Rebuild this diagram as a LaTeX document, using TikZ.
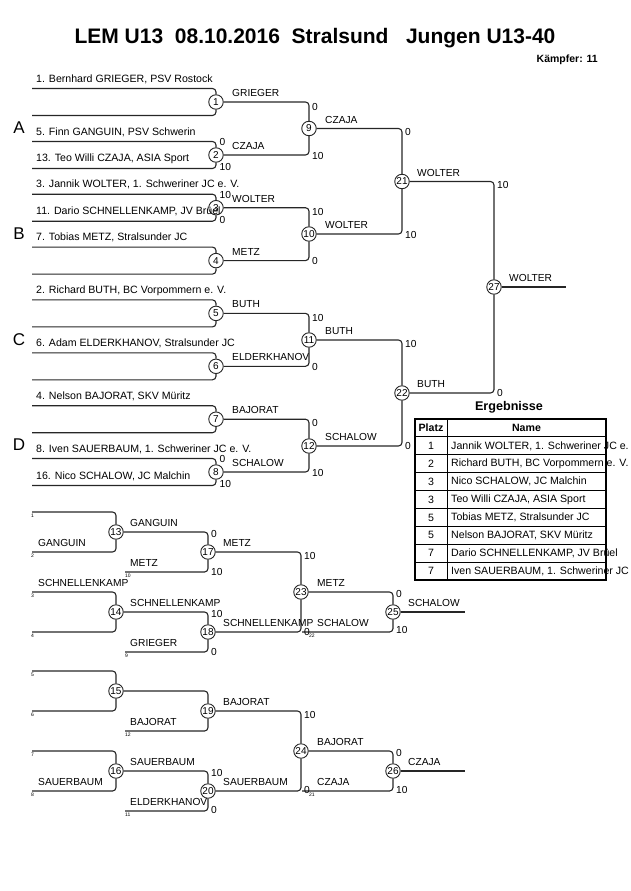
\documentclass[tikz,border=0pt]{standalone}
\usepackage{fontspec}
\setmainfont{Liberation Sans}
\usetikzlibrary{positioning}

\tikzset{
  mc/.style={circle, draw=black!85, fill=white, line width=0.9, inner sep=0pt, minimum size=14.5, font=\fontsize{10}{10}\selectfont},
  br/.style={draw=black!85, line width=1.1, rounded corners=3.5},
  nm/.style={anchor=west, inner sep=0pt, font=\fontsize{10.6}{12}\selectfont},
  lb/.style={anchor=west, inner sep=0pt, font=\fontsize{10.2}{12}\selectfont},
  sc/.style={anchor=west, inner sep=0pt, font=\fontsize{10.2}{12}\selectfont},
  tn/.style={anchor=north west, inner sep=0pt, font=\fontsize{5}{5}\selectfont},
  grp/.style={inner sep=0pt, font=\fontsize{17}{17}\selectfont},
  cell/.style={inner sep=0pt, font=\fontsize{10.6}{12}\selectfont},
}

\begin{document}
\begin{tikzpicture}[x=1pt,y=-1pt]
\useasboundingbox (0,0) rectangle (630,891);
\clip (0,0) rectangle (630,891);

% header
\node[font=\bfseries\fontsize{21}{24}\selectfont] (title) at (315,38) {LEM U13~~08.10.2016~~Stralsund~~~Jungen U13-40};
\node[anchor=east, inner sep=0pt, font=\bfseries\fontsize{10.5}{12}\selectfont] (kampf) at (598,60) {Kämpfer: 11};

% pools
\node[grp] (pA) at (19,128) {A};
\node[grp] (pB) at (19,234) {B};
\node[grp] (pC) at (19,340) {C};
\node[grp] (pD) at (19,445) {D};

% main tree, first round
\foreach \i/\y/\w in {1/102/GRIEGER, 2/155/CZAJA, 3/207.7/WOLTER, 4/260.6/METZ,
    5/313.4/BUTH, 6/366.3/ELDERKHANOV, 7/419.2/BAJORAT, 8/472/SCHALOW}{
  \node[mc] (m\i) at (216,\y) {\i};
  \coordinate (a\i) at (32,\y-13.5);
  \coordinate (b\i) at (32,\y+13.5);
  \draw[br] (a\i) -| (m\i);
  \draw[br] (b\i) -| (m\i);
  \node[lb] (l\i) at (232,\y-9) {\w};
}

% later rounds
\node[mc] (m9) at (309,128.5) {9};
\node[mc] (m10) at (309,234) {10};
\node[mc] (m11) at (309,340) {11};
\node[mc] (m12) at (309,446) {12};
\node[mc] (m21) at (402,181.5) {21};
\node[mc] (m22) at (402,393) {22};
\node[mc] (m27) at (494,287) {27};
\coordinate (w27) at (566,287);
\foreach \s/\t in {1/9,2/9,3/10,4/10,5/11,6/11,7/12,8/12,9/21,10/21,11/22,12/22,21/27,22/27}
  \draw[br] (m\s) -| (m\t);
\draw[br] (m27) -- (w27);

\node[lb] (l9) at (325,119.5) {CZAJA};
\node[lb] (l10) at (325,225) {WOLTER};
\node[lb] (l11) at (325,331) {BUTH};
\node[lb] (l12) at (325,437) {SCHALOW};
\node[lb] (l21) at (417,172.5) {WOLTER};
\node[lb] (l22) at (417,384) {BUTH};
\node[lb] (l27) at (509,278) {WOLTER};

% entrants
\node[nm] (n1) at (36,79) {1. Bernhard GRIEGER, PSV Rostock};
\node[nm] (n5) at (36,132) {5. Finn GANGUIN, PSV Schwerin};
\node[nm] (n13) at (36,159) {13. Teo Willi CZAJA, ASIA Sport};
\node[nm] (n3) at (36,184.7) {3. Jannik WOLTER, 1. Schweriner JC e. V.};
\node[nm] (n11) at (36,211.7) {11. Dario SCHNELLENKAMP, JV Brüel};
\node[nm] (n7) at (36,237.6) {7. Tobias METZ, Stralsunder JC};
\node[nm] (n2) at (36,290.4) {2. Richard BUTH, BC Vorpommern e. V.};
\node[nm] (n6) at (36,343.3) {6. Adam ELDERKHANOV, Stralsunder JC};
\node[nm] (n4) at (36,396.2) {4. Nelson BAJORAT, SKV Müritz};
\node[nm] (n8) at (36,449) {8. Iven SAUERBAUM, 1. Schweriner JC e. V.};
\node[nm] (n16) at (36,476) {16. Nico SCHALOW, JC Malchin};

% scores
\node[sc] (s2a) at (219.5,142) {0};
\node[sc] (s2b) at (219.5,167) {10};
\node[sc] (s3a) at (219.5,195) {10};
\node[sc] (s3b) at (219.5,220) {0};
\node[sc] (s8a) at (219.5,459) {0};
\node[sc] (s8b) at (219.5,484) {10};
\node[sc] (s9a) at (312,107) {0};
\node[sc] (s9b) at (312,156) {10};
\node[sc] (s10a) at (312,212) {10};
\node[sc] (s10b) at (312,261) {0};
\node[sc] (s11a) at (312,318) {10};
\node[sc] (s11b) at (312,367) {0};
\node[sc] (s12a) at (312,423) {0};
\node[sc] (s12b) at (312,473) {10};
\node[sc] (s21a) at (405,132) {0};
\node[sc] (s21b) at (405,235) {10};
\node[sc] (s22a) at (405,344) {10};
\node[sc] (s22b) at (405,446) {0};
\node[sc] (s27a) at (497,185) {10};
\node[sc] (s27b) at (497,393) {0};

% results
\node[font=\bfseries\fontsize{12.6}{14}\selectfont] (erg) at (509,407) {Ergebnisse};
\node[cell, font=\bfseries\fontsize{10.6}{12}\selectfont] (hp) at (431,428) {Platz};
\node[cell, font=\bfseries\fontsize{10.6}{12}\selectfont] (hn) at (526.5,428) {Name};
\foreach \pl/\nam [count=\r from 1] in {1/{Jannik WOLTER, 1. Schweriner JC e. V.},
    2/{Richard BUTH, BC Vorpommern e. V.}, 3/{Nico SCHALOW, JC Malchin},
    3/{Teo Willi CZAJA, ASIA Sport}, 5/{Tobias METZ, Stralsunder JC},
    5/{Nelson BAJORAT, SKV Müritz}, 7/{Dario SCHNELLENKAMP, JV Brüel},
    7/{Iven SAUERBAUM, 1. Schweriner JC e. V.}}{
  \node[cell] (pl\r) at (431,{419+17.9*(\r+0.5)}) {\pl};
  \node[nm] (na\r) at (451,{419+17.9*(\r+0.5)}) {\nam};
  \draw[line width=0.9] (415,{419+17.9*\r}) -- (606,{419+17.9*\r});
}
\draw[line width=0.9] (447,419) -- (447,580);
\draw[line width=2] (415,419) rectangle (606,580);

% repechage
\node[mc] (m13) at (116,532) {13};
\node[mc] (m14) at (116,612) {14};
\node[mc] (m15) at (116,691) {15};
\node[mc] (m16) at (116,771) {16};
\node[mc] (m17) at (208,552) {17};
\node[mc] (m18) at (208,632) {18};
\node[mc] (m19) at (208,711) {19};
\node[mc] (m20) at (208,791) {20};
\node[mc] (m23) at (301,592) {23};
\node[mc] (m24) at (301,751) {24};
\node[mc] (m25) at (393,612) {25};
\node[mc] (m26) at (393,771) {26};

\foreach \i/\y/\u/\v in {13/532/1/2, 14/612/3/4, 15/691/5/6, 16/771/7/8}{
  \coordinate (a\i) at (32,\y-20);
  \coordinate (b\i) at (32,\y+20);
  \draw[br] (a\i) -| (m\i);
  \draw[br] (b\i) -| (m\i);
  \node[tn] (ta\i) at (31,\y-18.5) {\u};
  \node[tn] (tb\i) at (31,\y+21.5) {\v};
}
\foreach \i/\y/\u in {17/572/10, 18/652/9, 19/731/12, 20/811/11}{
  \coordinate (e\i) at (125,\y);
  \draw[br] (e\i) -| (m\i);
  \node[tn] (te\i) at (125,\y+1.5) {\u};
}
\coordinate (e25) at (302,632);
\coordinate (e26) at (302,791);
\coordinate (w25) at (465,612);
\coordinate (w26) at (465,771);
\foreach \s/\t in {13/17,14/18,15/19,16/20,17/23,18/23,19/24,20/24,23/25,24/26}
  \draw[br] (m\s) -| (m\t);
\draw[br] (e25) -| (m25);
\draw[br] (e26) -| (m26);
\draw[br] (m25) -- (w25);
\draw[br] (m26) -- (w26);
\node[tn] (te25) at (309,633.5) {22};
\node[tn] (te26) at (309,792.5) {21};

\node[lb] (r1) at (38,543) {GANGUIN};
\node[lb] (r2) at (38,583) {SCHNELLENKAMP};
\node[lb] (r3) at (38,782) {SAUERBAUM};
\node[lb] (r4) at (130,523) {GANGUIN};
\node[lb] (r5) at (130,563) {METZ};
\node[lb] (r6) at (130,603) {SCHNELLENKAMP};
\node[lb] (r7) at (130,643) {GRIEGER};
\node[lb] (r8) at (130,722) {BAJORAT};
\node[lb] (r9) at (130,762) {SAUERBAUM};
\node[lb] (r10) at (130,802) {ELDERKHANOV};
\node[lb] (r11) at (223,543) {METZ};
\node[lb] (r12) at (223,623) {SCHNELLENKAMP};
\node[lb] (r13) at (223,702) {BAJORAT};
\node[lb] (r14) at (223,782) {SAUERBAUM};
\node[lb] (r15) at (317,583) {METZ};
\node[lb] (r16) at (317,623) {SCHALOW};
\node[lb] (r17) at (317,742) {BAJORAT};
\node[lb] (r18) at (317,782) {CZAJA};
\node[lb] (r19) at (408,603) {SCHALOW};
\node[lb] (r20) at (408,762) {CZAJA};

\node[sc] (s17a) at (211,534) {0};
\node[sc] (s17b) at (211,572) {10};
\node[sc] (s18a) at (211,614) {10};
\node[sc] (s18b) at (211,652) {0};
\node[sc] (s20a) at (211,773) {10};
\node[sc] (s20b) at (211,810) {0};
\node[sc] (s23a) at (304,556) {10};
\node[sc] (s23b) at (304,632) {0};
\node[sc] (s24a) at (304,715) {10};
\node[sc] (s24b) at (304,790) {0};
\node[sc] (s25a) at (396,594) {0};
\node[sc] (s25b) at (396,630) {10};
\node[sc] (s26a) at (396,753) {0};
\node[sc] (s26b) at (396,790) {10};
\end{tikzpicture}
\end{document}
